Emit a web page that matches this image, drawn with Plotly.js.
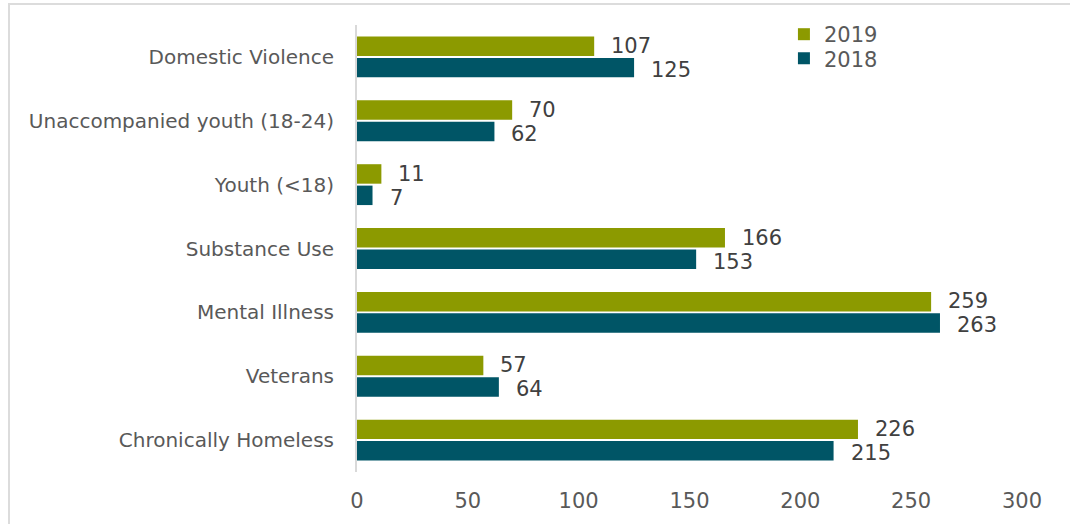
<!DOCTYPE html>
<html>
<head>
<meta charset="utf-8">
<script src="https://cdn.plot.ly/plotly-3.0.1.min.js"></script>
<style>
html,body{margin:0;padding:0;background:#fff;}
#chart{width:1070px;height:524px;position:relative;}
#frame{position:absolute;left:8px;top:3px;width:1100px;height:600px;border-top:2px solid #dcdcdc;border-left:2px solid #dcdcdc;pointer-events:none;}
</style>
</head>
<body>
<div style="position:relative;width:1070px;height:524px;overflow:hidden;">
<div id="chart"></div>
<div id="frame"></div>
</div>
<script>
const categories = ["Domestic Violence","Unaccompanied youth (18-24)","Youth (<18)","Substance Use","Mental Illness","Veterans","Chronically Homeless"];
const values2019 = [107,70,11,166,259,57,226];
const values2018 = [125,62,7,153,263,64,215];
const seriesNames = ["2019","2018"];
const tickValues = [0,50,100,150,200,250,300];

const FAM = "DejaVu Sans, Verdana, sans-serif";
const font = {family:FAM, color:"#595959", size:20};
const labelFont = {family:FAM, color:"#404040", size:21};

const traces = [
  {type:"bar", orientation:"h", name:seriesNames[0], y:categories, x:values2019,
   marker:{color:"#8c9a00"}, legend:"legend", hoverinfo:"x+y"},
  {type:"bar", orientation:"h", name:seriesNames[1], y:categories, x:values2018,
   marker:{color:"#005566"}, legend:"legend2", hoverinfo:"x+y"}
];

const annotations = [];
categories.forEach((c, i) => {
  annotations.push({x:values2019[i], y:c, xref:"x", yref:"y", text:String(values2019[i]),
    showarrow:false, xanchor:"left", yanchor:"middle", xshift:15, yshift:11, font:labelFont});
  annotations.push({x:values2018[i], y:c, xref:"x", yref:"y", text:String(values2018[i]),
    showarrow:false, xanchor:"left", yanchor:"middle", xshift:15, yshift:-13, font:labelFont});
});

const legendFont = {family:FAM, size:21, color:"#595959"};
const layout = {
  width:1070, height:524,
  margin:{l:357, r:48, t:25, b:52},
  paper_bgcolor:"#ffffff", plot_bgcolor:"#ffffff",
  font:font,
  barmode:"group", bargap:0.33, bargroupgap:0.09,
  showlegend:true,
  legend:{x:0.642, y:1.0245, xanchor:"left", yanchor:"top", font:legendFont,
          bgcolor:"rgba(0,0,0,0)", itemwidth:30},
  legend2:{x:0.642, y:0.9705, xanchor:"left", yanchor:"top", font:legendFont,
          bgcolor:"rgba(0,0,0,0)", itemwidth:30},
  annotations:annotations,
  xaxis:{range:[0,300], tickvals:tickValues, ticktext:tickValues.map(String), showgrid:false, zeroline:false,
         showline:false, ticks:"", tickfont:{family:FAM, size:21, color:"#595959"}, fixedrange:true, ticklabelstandoff:14},
  yaxis:{type:"category", autorange:"reversed", showgrid:false, zeroline:false, showline:true,
         linecolor:"#d9d9d9", linewidth:2, ticks:"", ticklabelstandoff:17, tickfont:{family:FAM, size:20, color:"#595959"}, fixedrange:true}
};

Plotly.newPlot("chart", traces, layout, {displayModeBar:false, staticPlot:true});
</script>
</body>
</html>
